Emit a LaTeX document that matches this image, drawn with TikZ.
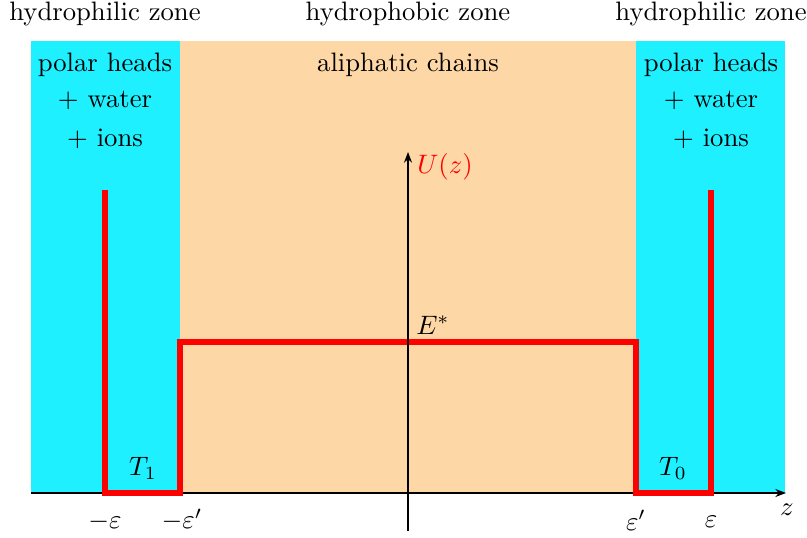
\documentclass[tikz,border=0pt]{standalone}
\usetikzlibrary{arrows.meta}
\definecolor{zonecyan}{RGB}{30,240,255}
\definecolor{zonepeach}{RGB}{253,216,166}
\definecolor{potred}{RGB}{255,0,0}
\begin{document}
\begin{tikzpicture}[x=0.375pt,y=-0.375pt,
  lbl/.style={inner sep=0pt,anchor=center},
  axis/.style={line width=0.6pt,-{Stealth[length=4pt,width=3pt]}},
  pot/.style={potred,line width=1.9pt,line join=miter}]
\useasboundingbox (0,0) rectangle (807,537);
% zones
\fill[zonecyan] (31,41) rectangle (180,493);
\fill[zonepeach] (180,41) rectangle (636,493);
\fill[zonecyan] (636,41) rectangle (785,493);
% top labels
\node[lbl] (hl) at (105,14) {hydrophilic zone};
\node[lbl] (hb) at (408,14) {hydrophobic zone};
\node[lbl] (hr) at (711,14) {hydrophilic zone};
\node[lbl] (ph1) at (105,65) {polar heads};
\node[lbl] (w1) at (105,100) {+ water};
\node[lbl] (i1) at (105,139) {+ ions};
\node[lbl] (ac) at (408,65) {aliphatic chains};
\node[lbl] (ph2) at (711,65) {polar heads};
\node[lbl] (w2) at (711,100) {+ water};
\node[lbl] (i2) at (711,139) {+ ions};
% axes
\coordinate (xs) at (31,493);
\coordinate (xe) at (786,493);
\coordinate (ys) at (408,531);
\coordinate (ye) at (408,152);
\draw[axis] (xs) -- (xe);
% potential
\draw[pot] (105,190) -- (105,493) -- (180,493) -- (180,342) -- (636,342) -- (636,493) -- (711,493) -- (711,190);
\draw[axis] (ys) -- (ye);
% labels
\node[lbl] (Uz) at (445,167) {\color{potred}$U(z)$};
\node[lbl] (Es) at (433,325) {$E^*$};
\node[lbl] (T1) at (143,468) {$T_1$};
\node[lbl] (T0) at (673,468) {$T_0$};
\node[lbl] (me) at (105,522) {$-\varepsilon$};
\node[lbl] (mep) at (182,520) {$-\varepsilon'$};
\node[lbl] (ep) at (636,520) {$\varepsilon'$};
\node[lbl] (e) at (711,522) {$\varepsilon$};
\node[lbl] (z) at (787,510) {$z$};
\end{tikzpicture}
\end{document}
